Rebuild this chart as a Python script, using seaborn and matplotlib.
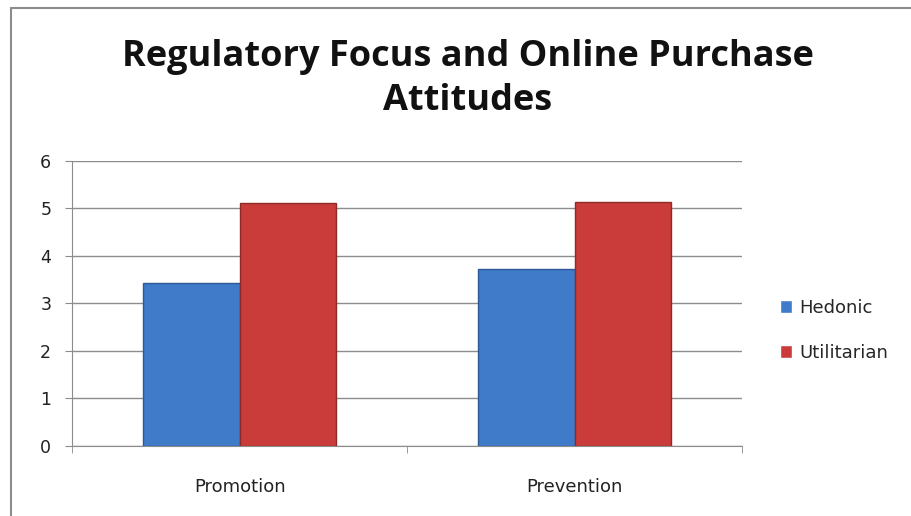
import pandas as pd
import matplotlib.pyplot as plt
import seaborn as sns
from matplotlib.patches import Rectangle

focus = ["Promotion", "Prevention"]
hedonic = [3.43, 3.72]
utilitarian = [5.11, 5.13]

df = pd.DataFrame({
    "focus": focus * 2,
    "type": ["Hedonic"] * 2 + ["Utilitarian"] * 2,
    "score": hedonic + utilitarian,
})

sns.set_style("white")
plt.rcParams["font.family"] = ["DejaVu Sans"]

fig = plt.figure(figsize=(9.12, 5.16), dpi=100)
ax = fig.add_axes([0.079, 0.136, 0.735, 0.552])

sns.barplot(x="focus", y="score", hue="type", data=df, ax=ax,
            palette={"Hedonic": "#3F7BC9", "Utilitarian": "#C93C3A"},
            width=0.575, gap=0, saturation=1, errorbar=None)
for bar, ec in zip(ax.patches, ["#2B5A94", "#2B5A94", "#8E2A28", "#8E2A28"]):
    bar.set_edgecolor(ec)
    bar.set_linewidth(1.0)

ax.set_ylim(0, 6)
ax.set_xlim(-0.5, 1.5)
ax.set_yticks(range(7))
ax.yaxis.grid(True, color="#8C8C8C", linewidth=1)
ax.set_axisbelow(True)
ax.set_xlabel("")
ax.set_ylabel("")
for s in ["top", "right"]:
    ax.spines[s].set_visible(False)
ax.spines["left"].set_color("#8C8C8C")
ax.spines["bottom"].set_color("#8C8C8C")
ax.tick_params(axis="y", left=True, length=5, color="#8C8C8C", labelsize=12.5,
               pad=10, labelcolor="#222222")
ax.tick_params(axis="x", bottom=False, labelsize=13, pad=20, labelcolor="#222222")
ax.set_xticks([0, 1])
ax.set_xticklabels(focus)
# category boundary ticks
ax.set_xticks([-0.5, 0.5, 1.5], minor=True)
ax.tick_params(axis="x", which="minor", bottom=True, length=5, color="#8C8C8C")

fig.text(0.513, 1 - 79 / 516, "Regulatory Focus and Online Purchase\nAttitudes",
         ha="center", va="center", fontsize=26, fontweight="bold",
         family="Open Sans", linespacing=1.3, color="#111111")

ax.legend(loc="center left", bbox_to_anchor=(0.855, 0.36), bbox_transform=fig.transFigure,
          frameon=False, fontsize=13, handlelength=0.7, handleheight=0.7,
          handletextpad=0.4, labelspacing=1.5, borderpad=0, borderaxespad=0)

fig.patches.append(Rectangle((0.012, -0.05), 1.2, 1.034, transform=fig.transFigure,
                             fill=False, edgecolor="#8C8C8C", linewidth=1.5))

fig.savefig("out.png", dpi=100)
